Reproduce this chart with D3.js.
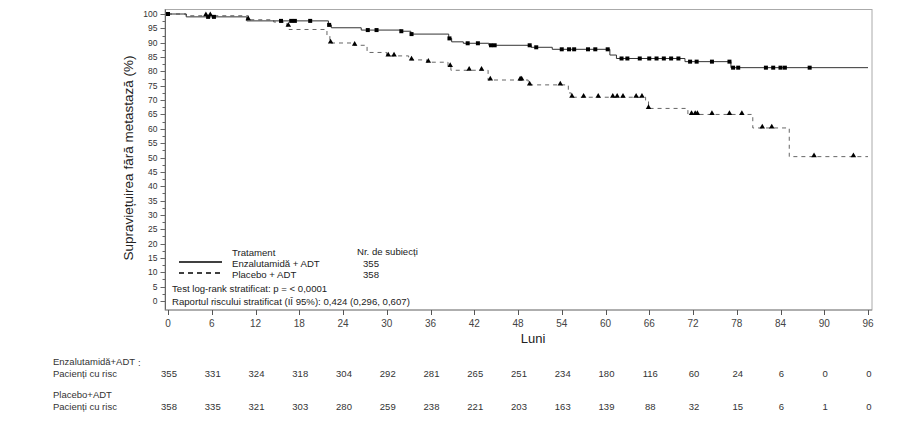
<!DOCTYPE html>
<html>
<head>
<meta charset="utf-8">
<script src="https://cdn.jsdelivr.net/npm/d3@7"></script>
<style>
  body { margin: 0; background: #fff; }
  svg text { font-family: "Liberation Sans Narrow", "Liberation Sans", Arial, sans-serif; }
</style>
</head>
<body>
<div id="km-chart"></div>
<script>
// months on the x axis / risk table columns
const months = [0, 6, 12, 18, 24, 30, 36, 42, 48, 54, 60, 66, 72, 78, 84, 90, 96];
const yTicks = [0, 5, 10, 15, 20, 25, 30, 35, 40, 45, 50, 55, 60, 65, 70, 75, 80, 85, 90, 95, 100];

// patients at risk
const enzaRisk = [355, 331, 324, 318, 304, 292, 281, 265, 251, 234, 180, 116, 60, 24, 6, 0, 0];
const placRisk = [358, 335, 321, 303, 280, 259, 238, 221, 203, 163, 139, 88, 32, 15, 6, 1, 0];

// KM steps [month, survival %]
const enzaSteps = [[0, 100], [2.5, 99.0], [10.8, 97.6], [22.0, 96.2], [22.4, 95.2], [26.5, 94.4],
  [32, 94.0], [33.3, 93.0], [38.5, 91.5], [38.9, 90.3], [40.5, 89.8], [44, 89.1], [49.8, 88.4],
  [52.7, 87.7], [60.6, 85.7], [61.5, 84.5], [70.9, 83.4], [77.2, 81.3]];
const placSteps = [[0, 100], [2.5, 99.4], [11, 98.0], [14.5, 97.2], [16.3, 95.8], [16.6, 94.6],
  [21.8, 92.5], [22.2, 89.9], [25.5, 89.1], [27.3, 86.6], [30, 85.4], [33, 84.0], [35.5, 83.2],
  [38.4, 81.7], [38.8, 80.4], [43.9, 77.0], [49.4, 75.3], [54.9, 72.5], [55.3, 71.0],
  [65.5, 69.5], [65.9, 67.1], [71.3, 65.0], [80.2, 60.3], [85.2, 50.3]];

// censored observations (months)
const enzaCens = [0, 5.5, 6.3, 15.5, 16.9, 17.4, 19.5, 22.1, 27.4, 28.6, 32, 33.4, 38.6, 41.1, 42.5,
  44.3, 44.8, 49.6, 50.5, 54, 55, 55.7, 57.6, 58.6, 60.3, 62.2, 63, 64.7, 66, 67, 68, 69, 70,
  71.6, 72.5, 74.6, 77, 77.5, 78.2, 82, 83, 84, 84.6, 88];
const placCens = [5.2, 5.8, 11, 16.5, 22.3, 25.6, 30.2, 31, 33.4, 35.7, 38.7, 41.3, 43, 44.2, 48.3,
  48.5, 49.6, 53.8, 55.4, 57, 59, 61, 61.6, 62.4, 64.2, 65, 65.9, 71.8, 72.3, 72.6, 74.6, 77,
  78.7, 81.5, 82.8, 88.6, 94];

const W = 916, H = 436;
const svg = d3.select("#km-chart").append("svg")
  .attr("width", W).attr("height", H);

const x = d3.scaleLinear().domain([0, 96]).range([168, 868]);
const y = d3.scaleLinear().domain([0, 100]).range([301, 14]);

// frame
svg.append("rect")
  .attr("x", 165).attr("y", 9.5).attr("width", 707).attr("height", 300.5)
  .attr("fill", "none").attr("stroke", "#aaa").attr("stroke-width", 1);

// y axis
const yAxis = svg.append("g").attr("transform", "translate(165.5,0)");
yAxis.append("line").attr("y1", 9.5).attr("y2", 310).attr("stroke", "#666");
yAxis.selectAll(".minor").data(d3.range(2.5, 100, 5)).enter().append("line")
  .attr("x1", -3).attr("x2", 0)
  .attr("y1", d => Math.round(y(d)) + 0.5).attr("y2", d => Math.round(y(d)) + 0.5)
  .attr("stroke", "#666");
yAxis.selectAll(".major").data(yTicks).enter().append("line")
  .attr("x1", -5).attr("x2", 0)
  .attr("y1", d => Math.round(y(d)) + 0.5).attr("y2", d => Math.round(y(d)) + 0.5)
  .attr("stroke", "#666");
yAxis.selectAll("text").data(yTicks).enter().append("text")
  .attr("x", -8).attr("y", d => y(d) + 3)
  .attr("text-anchor", "end").attr("font-size", "8.5px").attr("fill", "#333")
  .text(d => d);

// x axis
const xAxis = svg.append("g").attr("transform", "translate(0,310)");
xAxis.append("line").attr("x1", 165).attr("x2", 872).attr("stroke", "#888");
xAxis.selectAll(".tick").data(months).enter().append("line")
  .attr("x1", d => Math.round(x(d)) + 0.5).attr("x2", d => Math.round(x(d)) + 0.5)
  .attr("y1", 0).attr("y2", 5).attr("stroke", "#555");
xAxis.selectAll("text").data(months).enter().append("text")
  .attr("x", d => x(d)).attr("y", 17)
  .attr("text-anchor", "middle").attr("font-size", "10px").attr("fill", "#444")
  .text(d => d);

svg.append("text").attr("x", 533).attr("y", 343).attr("text-anchor", "middle")
  .attr("font-size", "13px").attr("fill", "#222").text("Luni");

svg.append("text")
  .attr("transform", "translate(133,158) rotate(-90)")
  .attr("text-anchor", "middle").attr("font-size", "13.5px").attr("fill", "#222")
  .style("font-family", "'Liberation Sans', Arial, sans-serif")
  .text("Supraviețuirea fără metastază (%)");

// curves
function survAt(steps, t) {
  let v = steps[0][1];
  for (const s of steps) { if (s[0] <= t) v = s[1]; }
  return v;
}
const line = d3.line().x(d => x(d[0])).y(d => y(d[1])).curve(d3.curveStepAfter);

const enzaPath = enzaSteps.concat([[96, enzaSteps[enzaSteps.length - 1][1]]]);
const placPath = placSteps.concat([[96, placSteps[placSteps.length - 1][1]]]);

svg.append("path").datum(placPath).attr("d", line)
  .attr("fill", "none").attr("stroke", "#666").attr("stroke-width", 1)
  .attr("stroke-dasharray", "4,4");
svg.append("path").datum(enzaPath).attr("d", line)
  .attr("fill", "none").attr("stroke", "#333").attr("stroke-width", 1);

// censor marks
svg.selectAll(".sq").data(enzaCens).enter().append("rect")
  .attr("x", d => x(d) - 2).attr("y", d => y(survAt(enzaSteps, d)) - 2)
  .attr("width", 4).attr("height", 4).attr("fill", "#000");
svg.selectAll(".tri").data(placCens).enter().append("path")
  .attr("d", d3.symbol().type(d3.symbolTriangle).size(13))
  .attr("transform", d => `translate(${x(d)},${y(survAt(placSteps, d)) - 1})`)
  .attr("fill", "#000");

// legend
const leg = svg.append("g").attr("font-size", "9.6px").attr("fill", "#222");
leg.append("text").attr("x", 232).attr("y", 256).text("Tratament");
leg.append("text").attr("x", 357).attr("y", 255).text("Nr. de subiecți");
leg.append("line").attr("x1", 179).attr("x2", 222).attr("y1", 262).attr("y2", 262)
  .attr("stroke", "#000").attr("stroke-width", 1.5);
leg.append("line").attr("x1", 179).attr("x2", 222).attr("y1", 273).attr("y2", 273)
  .attr("stroke", "#000").attr("stroke-width", 1.5).attr("stroke-dasharray", "5,4");
leg.append("text").attr("x", 232).attr("y", 267).text("Enzalutamidă + ADT");
leg.append("text").attr("x", 232).attr("y", 278).text("Placebo + ADT");
leg.append("text").attr("x", 363).attr("y", 267).text(enzaRisk[0]);
leg.append("text").attr("x", 363).attr("y", 278).text(placRisk[0]);
leg.append("text").attr("x", 172).attr("y", 292).text("Test log-rank stratificat: p = < 0,0001");
leg.append("text").attr("x", 172).attr("y", 305).text("Raportul riscului stratificat (IÎ 95%): 0,424 (0,296, 0,607)");

// risk table
const tab = svg.append("g").attr("font-size", "9.5px").attr("fill", "#333");
tab.append("text").attr("x", 53).attr("y", 365).text("Enzalutamidă+ADT");
tab.append("text").attr("x", 138).attr("y", 366).text(":");
tab.append("text").attr("x", 53).attr("y", 377).text("Pacienți cu risc");
tab.append("text").attr("x", 53).attr("y", 398).text("Placebo+ADT");
tab.append("text").attr("x", 53).attr("y", 410).text("Pacienți cu risc");
tab.selectAll(".re").data(enzaRisk).enter().append("text")
  .attr("x", (d, i) => x(months[i]) + 1).attr("y", 377).attr("text-anchor", "middle").text(d => d);
tab.selectAll(".rp").data(placRisk).enter().append("text")
  .attr("x", (d, i) => x(months[i]) + 1).attr("y", 410).attr("text-anchor", "middle").text(d => d);
</script>
</body>
</html>
